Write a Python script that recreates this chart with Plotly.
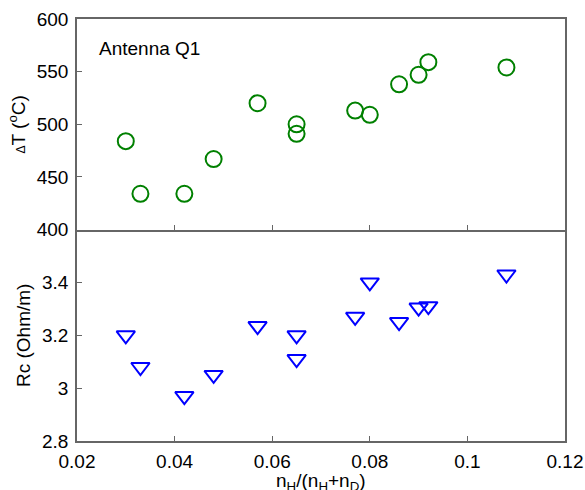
import plotly.graph_objects as go

x_vals = [0.030, 0.033, 0.042, 0.048, 0.057, 0.065, 0.065, 0.077, 0.080, 0.086, 0.090, 0.092, 0.108]
dT_vals = [484, 434, 434, 467, 520, 500, 491, 513, 509, 538, 547, 559, 554]
x_vals_rc = [0.030, 0.033, 0.042, 0.048, 0.057, 0.065, 0.065, 0.077, 0.080, 0.086, 0.090, 0.092, 0.108]
rc_vals = [3.20, 3.08, 2.97, 3.05, 3.235, 3.20, 3.11, 3.27, 3.40, 3.25, 3.305, 3.31, 3.43]

x_ticks = [0.02, 0.04, 0.06, 0.08, 0.1, 0.12]
x_ticktext = ["0.02", "0.04", "0.06", "0.08", "0.1", "0.12"]
top_ticks = [400, 450, 500, 550, 600]
bot_ticks = [2.8, 3.0, 3.2, 3.4]
bot_ticktext = ["2.8", "3", "3.2", "3.4"]

FONT = "Liberation Sans, Arial, sans-serif"
LINE = "#666666"
TICKSIZE = 19
TITLESIZE = 19

fig = go.Figure()
fig.add_trace(go.Scatter(
    x=x_vals, y=dT_vals, mode="markers", xaxis="x2", yaxis="y2",
    marker=dict(symbol="circle-open", size=16, color="#008000", line=dict(width=2, color="#008000")),
    showlegend=False))
fig.add_trace(go.Scatter(
    x=x_vals_rc, y=rc_vals, mode="markers", xaxis="x", yaxis="y",
    marker=dict(symbol="triangle-down-open", size=16, color="#0000FF", line=dict(width=2, color="#0000FF")),
    showlegend=False))

split = 0.501
common_x = dict(range=[0.02, 0.12], tickvals=x_ticks, ticktext=x_ticktext,
                showline=True, linecolor=LINE, linewidth=1.5, automargin=False,
                ticks="inside", ticklen=5, tickcolor=LINE, showgrid=False, zeroline=False,
                tickfont=dict(family=FONT, size=TICKSIZE, color="black"))
common_y = dict(showline=True, mirror=True, linecolor=LINE, linewidth=1.5, automargin=False,
                ticks="inside", ticklen=5, tickcolor=LINE, showgrid=False, zeroline=False,
                ticklabelstandoff=3,
                tickfont=dict(family=FONT, size=TICKSIZE, color="black"))

fig.update_layout(
    width=585, height=490,
    margin=dict(l=77, r=20, t=19, b=49),
    paper_bgcolor="white", plot_bgcolor="white",
    font=dict(family=FONT, color="black"),
    xaxis=dict(**common_x, domain=[0, 1], anchor="y", mirror=False, ticklabelstandoff=2),
    xaxis2=dict(**common_x, domain=[0, 1], anchor="y2", mirror=True, showticklabels=False, matches="x"),
    yaxis=dict(**common_y, domain=[0, split], range=[2.8, 3.6], tickvals=bot_ticks, ticktext=bot_ticktext,
               title=dict(text="Rc (Ohm/m)", font=dict(family=FONT, size=TITLESIZE), standoff=6)),
    yaxis2=dict(**common_y, domain=[split, 1], range=[400, 600], tickvals=top_ticks,
                title=dict(text="<span style='font-size:12px'>Δ</span>T (<sup>o</sup>C)",
                           font=dict(family=FONT, size=TITLESIZE), standoff=6)),
    annotations=[
        dict(text="Antenna Q1", x=0.041, y=0.93, xref="paper", yref="paper",
             xanchor="left", yanchor="middle", showarrow=False,
             font=dict(family=FONT, size=19, color="black")),
        dict(text="n<sub>H</sub>/(n<sub>H</sub>+n<sub>D</sub>)", x=0.5, y=-0.097,
             xref="paper", yref="paper", xanchor="center", yanchor="middle", showarrow=False,
             font=dict(family=FONT, size=TITLESIZE, color="black")),
    ],
)

fig.write_html("out.html")
